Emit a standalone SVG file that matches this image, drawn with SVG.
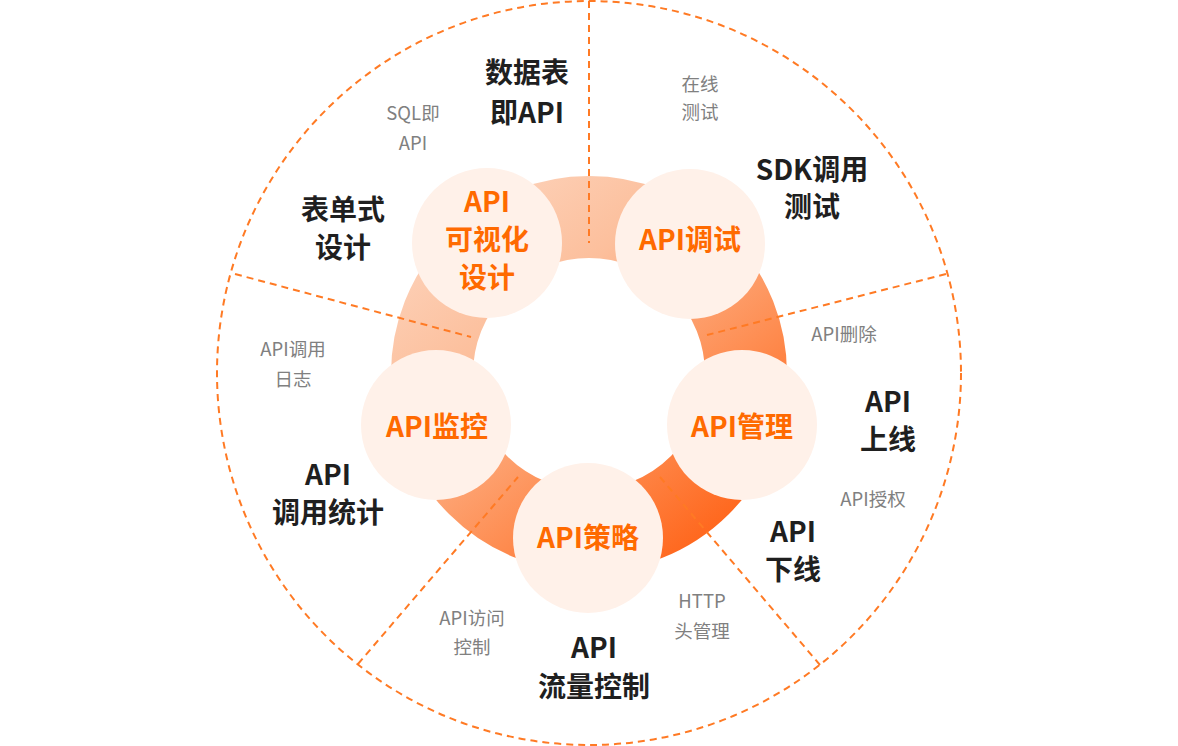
<svg xmlns="http://www.w3.org/2000/svg" width="1178" height="746" viewBox="0 0 1178 746">
<defs>
<linearGradient id="ringGrad" gradientUnits="userSpaceOnUse" x1="420" y1="180" x2="720" y2="560">
<stop offset="0" stop-color="#fdd8c3"/>
<stop offset="0.35" stop-color="#fcbf9c"/>
<stop offset="0.7" stop-color="#fe8c50"/>
<stop offset="1" stop-color="#ff5f12"/>
</linearGradient>
<style>
.dash{fill:none;stroke:#ff7a24;stroke-width:2;stroke-dasharray:7 5}
.node{fill:#fff1e9}
.nt{font-family:"Noto Sans CJK SC","Noto Sans",sans-serif;font-size:28px;font-weight:700;fill:#ff6a00;text-anchor:middle}
.bt{font-family:"Noto Sans CJK SC","Noto Sans",sans-serif;font-size:28px;font-weight:600;fill:#1f1f1f;text-anchor:middle}
.gt{font-family:"Noto Sans CJK SC","Noto Sans",sans-serif;font-size:18.5px;font-weight:400;fill:#808080;text-anchor:middle}
</style>
</defs>
<rect width="1178" height="746" fill="#ffffff"/>
<circle id="ring" cx="589" cy="374" r="157" fill="none" stroke="url(#ringGrad)" stroke-width="82"/>
<g id="connectors">
<circle class="dash" cx="589" cy="373" r="372"/>
<line class="dash" x1="589" y1="1" x2="589" y2="243"/>
<line class="dash" x1="235" y1="274" x2="471" y2="337"/>
<line class="dash" x1="946" y1="274" x2="707" y2="335"/>
<line class="dash" x1="820" y1="665" x2="660" y2="477"/>
<line class="dash" x1="358" y1="664" x2="518" y2="477"/>
</g>
<g id="node-design">
<circle class="node" cx="487" cy="243" r="75"/>
<text class="nt" x="487" y="212">API</text>
<text class="nt" x="487" y="250">可视化</text>
<text class="nt" x="487" y="288">设计</text>
</g>
<g id="node-debug">
<circle class="node" cx="690" cy="244" r="75"/>
<text class="nt" x="690" y="250">API调试</text>
</g>
<g id="node-manage">
<circle class="node" cx="742" cy="425" r="75"/>
<text class="nt" x="742" y="437">API管理</text>
</g>
<g id="node-policy">
<circle class="node" cx="588" cy="538" r="75"/>
<text class="nt" x="588" y="548">API策略</text>
</g>
<g id="node-monitor">
<circle class="node" cx="436" cy="425" r="75"/>
<text class="nt" x="437" y="437">API监控</text>
</g>
<g id="labels">
<text class="bt" x="527" y="83">数据表</text>
<text class="bt" x="527" y="123">即API</text>
<text class="bt" x="343" y="220">表单式</text>
<text class="bt" x="343" y="258">设计</text>
<text class="bt" x="812" y="180">SDK调用</text>
<text class="bt" x="812" y="217">测试</text>
<text class="bt" x="888" y="412">API</text>
<text class="bt" x="888" y="450">上线</text>
<text class="bt" x="793" y="542">API</text>
<text class="bt" x="793" y="580">下线</text>
<text class="bt" x="328" y="485">API</text>
<text class="bt" x="328" y="523">调用统计</text>
<text class="bt" x="594" y="658">API</text>
<text class="bt" x="594" y="697">流量控制</text>
<text class="gt" x="413" y="120">SQL即</text>
<text class="gt" x="413" y="150">API</text>
<text class="gt" x="700" y="91">在线</text>
<text class="gt" x="700" y="119">测试</text>
<text class="gt" x="844" y="341">API删除</text>
<text class="gt" x="873" y="506">API授权</text>
<text class="gt" x="293" y="356">API调用</text>
<text class="gt" x="293" y="386">日志</text>
<text class="gt" x="472" y="625">API访问</text>
<text class="gt" x="472" y="654">控制</text>
<text class="gt" x="702" y="608">HTTP</text>
<text class="gt" x="702" y="638">头管理</text>
</g>
</svg>
